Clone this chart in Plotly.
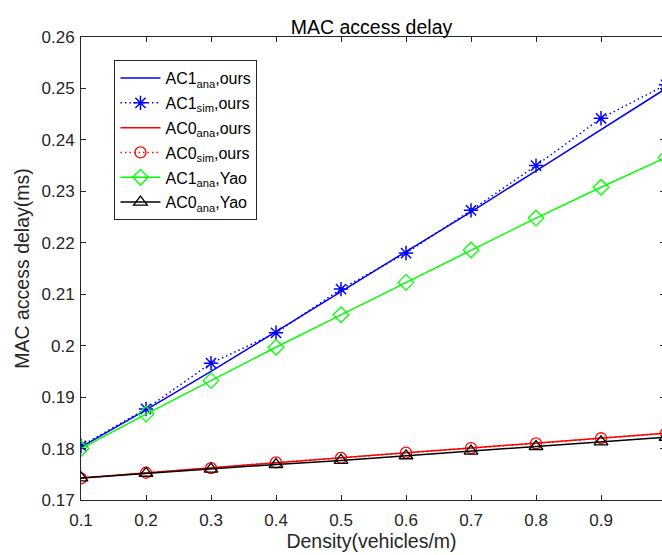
import plotly.graph_objects as go

density = [0.1, 0.2, 0.3, 0.4, 0.5, 0.6, 0.7, 0.8, 0.9, 1.0]
ac1_ana_ours = [0.1803, 0.1875, 0.1950, 0.2027, 0.2105, 0.2183, 0.2260, 0.2340, 0.2420, 0.2500]
ac1_sim_ours = [0.1805, 0.1877, 0.1966, 0.2025, 0.2110, 0.2180, 0.2263, 0.2350, 0.2442, 0.2507]
ac0_ana_ours = [0.1743, 0.1753, 0.1763, 0.1773, 0.1782, 0.1792, 0.1801, 0.1811, 0.1820, 0.1830]
ac0_sim_ours = [0.1742, 0.1753, 0.1762, 0.1773, 0.1782, 0.1792, 0.1801, 0.1810, 0.1820, 0.1830]
ac1_ana_yao = [0.1800, 0.1867, 0.1932, 0.1997, 0.2060, 0.2123, 0.2186, 0.2248, 0.2308, 0.2366]
ac0_ana_yao = [0.1743, 0.1752, 0.1760, 0.1769, 0.1777, 0.1786, 0.1795, 0.1804, 0.1813, 0.1822]

x_ticks = [0.1, 0.2, 0.3, 0.4, 0.5, 0.6, 0.7, 0.8, 0.9]
x_ticktext = ["0.1", "0.2", "0.3", "0.4", "0.5", "0.6", "0.7", "0.8", "0.9"]
y_ticks = [0.17, 0.18, 0.19, 0.20, 0.21, 0.22, 0.23, 0.24, 0.25, 0.26]
y_ticktext = ["0.17", "0.18", "0.19", "0.2", "0.21", "0.22", "0.23", "0.24", "0.25", "0.26"]

FONT = "Liberation Sans, Arial, Helvetica, sans-serif"
AX = "#262626"
DOT = "1.5px,3px"

fig = go.Figure()
fig.add_trace(go.Scatter(x=density, y=ac1_ana_ours, mode="lines", legendgroup="g1",
                         line=dict(color="#0000FF", width=1.5),
                         name="AC1<sub>ana</sub>,ours"))
fig.add_trace(go.Scatter(x=density, y=ac1_sim_ours, mode="lines+markers", legendgroup="g2",
                         line=dict(color="#0000FF", width=1.5, dash=DOT),
                         marker=dict(symbol="asterisk-open", size=12,
                                     line=dict(color="#0000FF", width=1.5)),
                         name="AC1<sub>sim</sub>,ours"))
fig.add_trace(go.Scatter(x=density, y=ac0_ana_ours, mode="lines", legendgroup="g3",
                         line=dict(color="#FF0000", width=1.5),
                         name="AC0<sub>ana</sub>,ours"))
fig.add_trace(go.Scatter(x=density, y=ac0_sim_ours, mode="lines+markers", legendgroup="g4",
                         line=dict(color="#FF0000", width=1.5, dash=DOT),
                         marker=dict(symbol="circle-open", size=11,
                                     line=dict(color="#FF0000", width=1.3)),
                         name="AC0<sub>sim</sub>,ours"))
fig.add_trace(go.Scatter(x=density, y=ac1_ana_yao, mode="lines+markers", legendgroup="g5",
                         line=dict(color="#00FF00", width=1.5),
                         marker=dict(symbol="diamond-open", size=12,
                                     line=dict(color="#00FF00", width=1.3)),
                         name="AC1<sub>ana</sub>,Yao"))
fig.add_trace(go.Scatter(x=density, y=ac0_ana_yao, mode="lines+markers", legendgroup="g6",
                         line=dict(color="#000000", width=1.5),
                         marker=dict(symbol="triangle-up-open", size=12,
                                     line=dict(color="#000000", width=1.3)),
                         name="AC0<sub>ana</sub>,Yao"))
# invisible trace on right axis for inward right ticks
fig.add_trace(go.Scatter(x=[density[0]], y=[y_ticks[0]], yaxis="y2", mode="markers",
                         marker=dict(opacity=0), showlegend=False, hoverinfo="skip"))

fig.update_layout(
    width=662, height=555,
    margin=dict(l=80.5, r=0, t=37, b=55),
    paper_bgcolor="white", plot_bgcolor="white",
    font=dict(family=FONT, color=AX, size=17),
    title=dict(text="MAC access delay", x=0.5, xanchor="center", xref="paper",
               y=1, yref="paper", yanchor="bottom", pad=dict(b=3),
               font=dict(size=19.5, color="#000000")),
    xaxis=dict(range=[0.1, 0.9938], tickvals=x_ticks, ticktext=x_ticktext,
               showgrid=False, zeroline=False, showline=True, linecolor=AX, linewidth=1,
               ticks="inside", ticklen=5, tickcolor=AX, mirror="ticks",
               ticklabelstandoff=5,
               tickfont=dict(size=17, color=AX),
               title=dict(text="Density(vehicles/m)", font=dict(size=19.5, color=AX), standoff=4)),
    yaxis=dict(range=[0.17, 0.26], tickvals=y_ticks, ticktext=y_ticktext,
               showgrid=False, zeroline=False, showline=True, linecolor=AX, linewidth=1,
               ticks="inside", ticklen=5, tickcolor=AX, mirror=False,
               ticklabelstandoff=2,
               tickfont=dict(size=17, color=AX),
               title=dict(text="MAC access delay(ms)", font=dict(size=19.5, color=AX), standoff=6)),
    yaxis2=dict(range=[0.17, 0.26], tickvals=y_ticks, overlaying="y", side="right",
                showticklabels=False, showgrid=False, zeroline=False, showline=False,
                ticks="inside", ticklen=2, tickcolor=AX),
    legend=dict(x=0.0576, y=0.950, xanchor="left", yanchor="top",
                bgcolor="white", bordercolor=AX, borderwidth=1, tracegroupgap=1,
                font=dict(size=16, color="#000000"), itemwidth=40),
    showlegend=True,
)

fig.write_html("out.html")
